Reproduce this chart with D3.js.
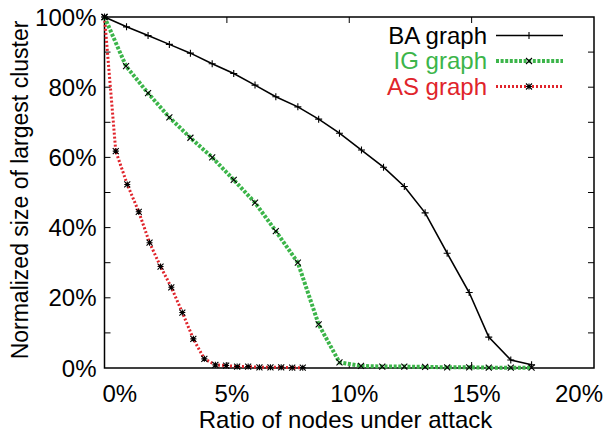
<!DOCTYPE html>
<html>
<head>
<meta charset="utf-8">
<style>
  body { margin: 0; background: #fff; }
  text { font-family: "Liberation Sans", Arial, Helvetica, sans-serif; }
</style>
</head>
<body>
<svg width="606" height="435"></svg>
<script src="https://d3js.org/d3.v7.min.js"></script>
<script>
  // values (x: % of nodes attacked, y: % size of largest cluster)
  var baX = [0, 0.9, 1.78, 2.65, 3.51, 4.4, 5.28, 6.15, 7.0, 7.9, 8.75, 9.6, 10.5, 11.4, 12.25, 13.1, 14.0, 14.9, 15.7, 16.6, 17.45];
  var baY = [100, 97.2, 94.7, 92.2, 89.7, 86.7, 83.9, 80.6, 77.3, 74.4, 70.9, 66.9, 62.1, 57.2, 51.7, 44.2, 32.7, 21.5, 8.8, 2.3, 0.9];

  var igX = [0, 0.88, 1.78, 2.65, 3.51, 4.4, 5.28, 6.15, 7.0, 7.9, 8.75, 9.6, 10.48, 11.35, 12.25, 13.1, 14.0, 14.9, 15.7, 16.6, 17.45];
  var igY = [100, 86.0, 78.3, 71.4, 65.6, 60.0, 53.6, 47.1, 39.0, 30.0, 12.4, 1.6, 0.6, 0.4, 0.4, 0.3, 0.2, 0.2, 0.1, 0.1, 0.1];

  var asX = [0, 0.46, 0.93, 1.4, 1.84, 2.29, 2.73, 3.18, 3.63, 4.08, 4.53, 4.97, 5.42, 5.87, 6.33, 6.78, 7.22, 7.67, 8.1];
  var asY = [100, 61.8, 52.3, 44.5, 35.7, 28.9, 23.0, 15.8, 8.3, 2.6, 0.9, 0.7, 0.4, 0.4, 0.2, 0.2, 0.2, 0.1, 0.1];

  var xTicks = [0, 5, 10, 15, 20];
  var yTicks = [0, 20, 40, 60, 80, 100];
  var yMinor = [10, 30, 50, 70, 90];

  var svg = d3.select("svg"),
      margin = {top: 17, right: 12, bottom: 67, left: 104.5},
      width = +svg.attr("width") - margin.left - margin.right,
      height = +svg.attr("height") - margin.top - margin.bottom,
      g = svg.append("g").attr("transform", "translate(" + margin.left + "," + margin.top + ")");

  var x = d3.scaleLinear().domain([0, 20]).range([0, width]);
  var y = d3.scaleLinear().domain([0, 100]).range([height, 0]);

  function zip(xs, ys) {
    return xs.map(function(v, i) { return {x: v, y: ys[i]}; });
  }

  var series = [
    {name: "BA graph", color: "#000", data: zip(baX, baY), width: 1.6, dash: null, mark: "plus"},
    {name: "IG graph", color: "#3cb54a", data: zip(igX, igY), width: 4, dash: "3,1.6", mark: "cross"},
    {name: "AS graph", color: "#e0242b", data: zip(asX, asY), width: 3, dash: "2,2", mark: "star"}
  ];

  // frame
  g.append("rect")
      .attr("width", width)
      .attr("height", height)
      .attr("fill", "none")
      .attr("stroke", "#000")
      .attr("stroke-width", 1.5);

  // inward ticks, gnuplot style
  var tk = 6;
  var ticks = g.append("g").attr("stroke", "#000").attr("stroke-width", 1);
  xTicks.slice(1, -1).forEach(function(d) {
    ticks.append("line").attr("x1", x(d)).attr("x2", x(d)).attr("y1", 0).attr("y2", tk);
    ticks.append("line").attr("x1", x(d)).attr("x2", x(d)).attr("y1", height).attr("y2", height - tk);
  });
  yTicks.concat(yMinor).forEach(function(d) {
    if (d === 0 || d === 100) return;
    ticks.append("line").attr("x1", 0).attr("x2", tk).attr("y1", y(d)).attr("y2", y(d));
    ticks.append("line").attr("x1", width).attr("x2", width - tk).attr("y1", y(d)).attr("y2", y(d));
  });

  // tick labels
  g.append("g").selectAll("text")
    .data(yTicks)
    .enter().append("text")
      .attr("x", -8)
      .attr("y", function(d) { return y(d); })
      .attr("dy", "0.36em")
      .attr("text-anchor", "end")
      .attr("font-size", 24)
      .text(function(d) { return d + "%"; });

  g.append("g").selectAll("text")
    .data(xTicks)
    .enter().append("text")
      .attr("x", function(d) { return x(d); })
      .attr("y", height + 34)
      .attr("dx", function(d, i) { return i === 0 ? -2 : (i === xTicks.length - 1 ? 9 : 5); })
      .attr("text-anchor", function(d, i) { return i === 0 ? "start" : (i === xTicks.length - 1 ? "end" : "middle"); })
      .attr("font-size", 24)
      .text(function(d) { return d + "%"; });

  // axis titles
  svg.append("text")
      .attr("x", margin.left + 241)
      .attr("y", 428)
      .attr("text-anchor", "middle")
      .attr("font-size", 24)
      .text("Ratio of nodes under attack");

  svg.append("text")
      .attr("transform", "translate(28,190) rotate(-90)")
      .attr("text-anchor", "middle")
      .attr("font-size", 23)
      .text("Normalized size of largest cluster");

  var line = d3.line()
      .x(function(d) { return x(d.x); })
      .y(function(d) { return y(d.y); });

  function marker(sel, type, r) {
    var p = "M" + (-r) + ",0H" + r + "M0," + (-r) + "V" + r;
    var c = "M" + (-r) + "," + (-r) + "L" + r + "," + r + "M" + (-r) + "," + r + "L" + r + "," + (-r);
    sel.append("path")
      .attr("d", type === "plus" ? p : (type === "cross" ? c : p + c))
      .attr("fill", "none")
      .attr("stroke", "#000")
      .attr("stroke-width", 1.1);
  }

  series.slice().reverse().forEach(function(s) {
    g.append("path")
        .datum(s.data)
        .attr("fill", "none")
        .attr("stroke", s.color)
        .attr("stroke-width", s.width)
        .attr("stroke-dasharray", s.dash)
        .attr("d", line);

    g.append("g").selectAll("g")
      .data(s.data)
      .enter().append("g")
        .attr("transform", function(d) { return "translate(" + x(d.x) + "," + y(d.y) + ")"; })
        .each(function() { marker(d3.select(this), s.mark, s.mark === "plus" ? 3.5 : 3); });
  });

  // legend
  var legend = svg.append("g");
  series.forEach(function(s, i) {
    var ly = 35.5 + i * 25.5;
    legend.append("text")
        .attr("x", 487)
        .attr("y", ly)
        .attr("dy", "0.34em")
        .attr("text-anchor", "end")
        .attr("font-size", 24)
        .attr("fill", s.color)
        .text(s.name);
    legend.append("line")
        .attr("x1", 496).attr("x2", 563)
        .attr("y1", ly).attr("y2", ly)
        .attr("stroke", s.color)
        .attr("stroke-width", s.width)
        .attr("stroke-dasharray", s.dash);
    var m = legend.append("g").attr("transform", "translate(529," + ly + ")");
    marker(m, s.mark, s.mark === "plus" ? 3.5 : 3);
  });
</script>
</body>
</html>
